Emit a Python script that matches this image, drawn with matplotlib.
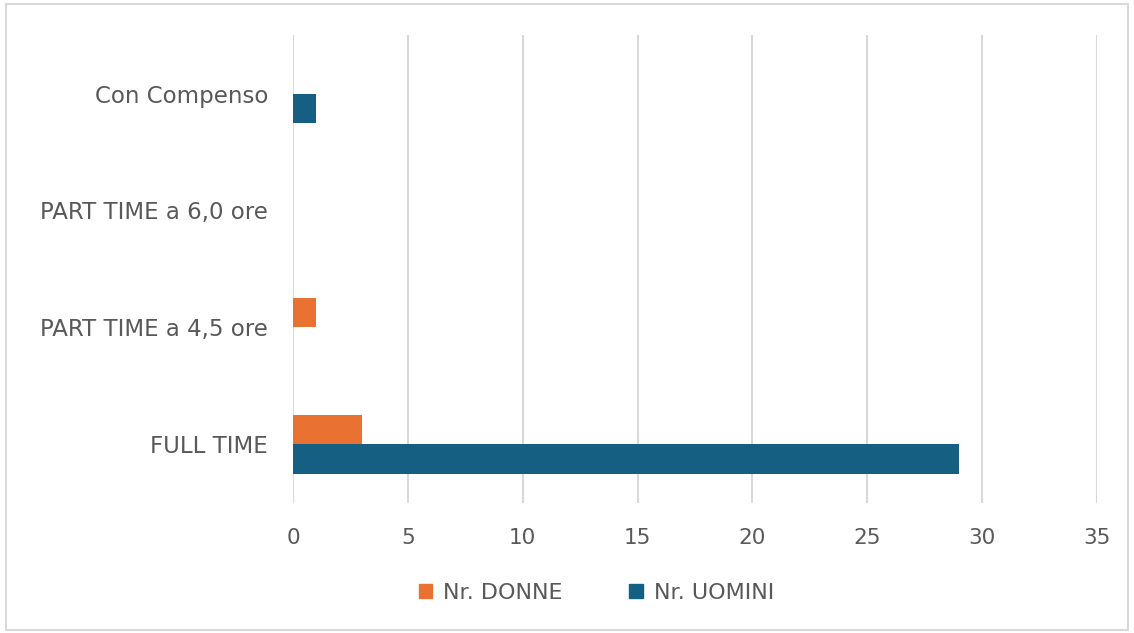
import numpy as np
import matplotlib.pyplot as plt
import matplotlib.patches as mpatches

# categories from bottom to top, as drawn
categorie = ['FULL TIME', 'PART TIME a 4,5 ore', 'PART TIME a 6,0 ore', 'Con Compenso']
donne = [3, 1, 0, 0]
uomini = [29, 0, 0, 1]
serie = ['Nr. DONNE', 'Nr. UOMINI']
xticks = [0, 5, 10, 15, 20, 25, 30, 35]

c_donne = '#E97132'
c_uomini = '#156082'
grigio = '#595959'

plt.rcParams['font.family'] = ['DejaVu Sans']

fig = plt.figure(figsize=(11.34, 6.33), dpi=100)
ax = fig.add_axes([0.2584, 0.2054, 0.7090, 0.7393])

y = np.arange(len(categorie))
h = 0.256
ax.barh(y + h / 2, donne, height=h, color=c_donne, label=serie[0], zorder=3)
ax.barh(y - h / 2, uomini, height=h, color=c_uomini, label=serie[1], zorder=3)

ax.set_ylim(-0.5, 3.5)
ax.set_xlim(0, 35)
ax.set_xticks(xticks)
ax.set_yticks(y)
ax.set_yticklabels(categorie)
ax.tick_params(axis='both', length=0, labelcolor=grigio)
ax.tick_params(axis='x', pad=18, labelsize=15.5)
ax.tick_params(axis='y', pad=18, labelsize=16.5)
ax.xaxis.grid(True, color='#d9d9d9', linewidth=1.5, zorder=0)
for s in ax.spines.values():
    s.set_visible(False)

handles = [mpatches.Patch(color=c_donne, label=serie[0]),
           mpatches.Patch(color=c_uomini, label=serie[1])]
leg = fig.legend(handles=handles, loc='center', bbox_to_anchor=(0.526, 0.063),
                 ncol=2, frameon=False, fontsize=16, handlelength=0.6,
                 handleheight=0.6, handletextpad=0.5, columnspacing=3.0)
for t in leg.get_texts():
    t.set_color(grigio)

# light border around the whole chart
fig.patches.append(mpatches.Rectangle((0.005, 0.005), 0.99, 0.988, transform=fig.transFigure,
                                      fill=False, edgecolor='#d9d9d9', linewidth=1.5))

fig.savefig('out.png', dpi=100)
